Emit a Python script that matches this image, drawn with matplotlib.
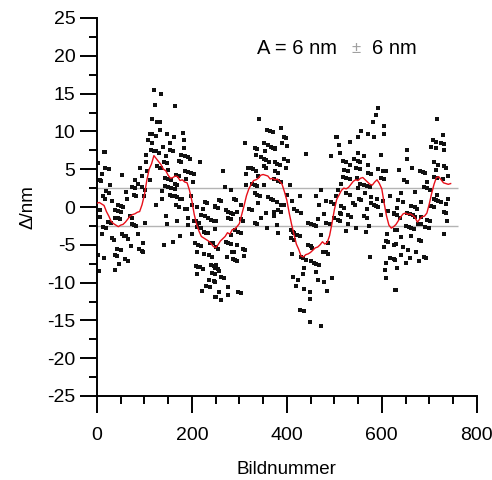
import matplotlib
matplotlib.use('Agg')
import matplotlib.pyplot as plt
import numpy as np

plt.rcParams['font.family'] = ['Liberation Sans', 'DejaVu Sans']
plt.rcParams['axes.unicode_minus'] = False

# Einzelmessungen (Bildnummer, Abweichung in nm)
frame_nr = [
    120, 123, 115, 111, 116, 108, 115, 113, 120, 104, 104, 90, 106, 94, 81, 111, 87, 94, 74, 80,
    102, 78, 83, 99, 61, 64, 52, 15, 17, 26, 10, 3, 8, 27, 20, 25, 13, 18, 31, 45,
    50, 55, 38, 45, 50, 6, 6, 39, 45, 48, 24, 30, 69, 74, 73, 78, 83, 101, 13, 20,
    52, 57, 62, 87, 66, 11, 31, 36, 97, 71, 88, 94, 98, 43, 50, 39, 43, 60, 66, 15,
    46, 3, 38, 4, 2, 17, 6,
    136, 165, 127, 132, 132, 124, 147, 181, 162, 184, 153, 139, 184, 125, 131, 153, 160, 178, 185, 192,
    197, 145, 172, 178, 141, 147, 218, 127, 132, 136, 186, 192, 199, 204, 150, 167, 172, 143, 150, 157,
    188, 202, 164, 169, 143, 150, 155, 165, 137, 153, 158, 164, 169, 174, 179, 199, 137, 227, 231, 125,
    167, 173, 200, 211, 185, 190, 223, 248, 220, 227, 192, 234, 146, 204, 209, 214, 241, 246, 169, 148,
    192, 211, 220, 249, 225, 230, 235, 176, 201, 160, 141, 206, 213, 220, 239, 244, 211, 225, 237, 242,
    208, 213, 218, 223, 241, 246, 211, 242, 248, 237, 246, 230, 238, 221, 249,
    342, 359, 364, 370, 312, 333, 338, 352, 361, 366, 371, 375, 353, 335, 346, 352, 356, 363, 375, 352,
    356, 318, 324, 329, 335, 265, 315, 375, 339, 326, 332, 338, 352, 314, 269, 283, 332, 338, 343, 360,
    366, 371, 289, 293, 258, 262, 248, 254, 304, 339, 321, 326, 271, 276, 282, 287, 356, 374, 296, 276,
    282, 345, 303, 307, 251, 332, 338, 359, 290, 297, 303, 283, 272, 277, 282, 296, 307, 312, 251, 256,
    284, 289, 275, 310, 286, 291, 295, 251, 248, 254, 258, 262, 268, 248, 277, 258, 298, 304, 276, 251,
    261,
    387, 394, 398, 389, 400, 376, 440, 504, 493, 395, 402, 380, 385, 398, 376, 382, 374, 381, 387, 406,
    401, 473, 380, 428, 462, 483, 493, 500, 410, 388, 394, 468, 374, 416, 422, 429, 382, 388, 479, 444,
    450, 457, 461, 465, 482, 490, 380, 382, 408, 413, 416, 422, 427, 471, 409, 416, 444, 450, 454, 486,
    476, 482, 487, 410, 429, 434, 440, 451, 457, 461, 468, 436, 461, 434, 412, 423, 465, 496, 478, 420,
    437, 448, 485, 448, 427, 436, 448, 472,
    591, 588, 581, 604, 604, 557, 570, 584, 549, 506, 532, 510, 511, 550, 562, 541, 550, 555, 518, 525,
    534, 570, 598, 546, 555, 521, 528, 592, 602, 609, 570, 577, 518, 525, 548, 598, 605, 534, 514, 555,
    562, 569, 576, 549, 507, 618, 525, 532, 565, 553, 557, 578, 590, 602, 504, 515, 520, 539, 543, 577,
    583, 588, 592, 569, 613, 626, 511, 515, 528, 536, 563, 569, 599, 500, 507, 513, 528, 574, 546, 525,
    567, 612, 609, 613, 626, 605, 576, 618, 625, 609, 606, 609, 627,
    717, 728, 707, 714, 724, 732, 704, 714, 730, 653, 654, 711, 719, 730, 735, 664, 637, 681, 686, 691,
    714, 739, 709, 716, 647, 654, 696, 728, 689, 695, 702, 669, 641, 717, 739, 634, 709, 714, 719, 724,
    644, 682, 735, 703, 709, 662, 669, 675, 632, 730, 626, 632, 654, 660, 665, 669, 639, 735, 682, 696,
    702, 738, 650, 658, 662, 668, 676, 682, 692, 700, 627, 633, 730, 661, 641, 678, 683, 630, 644, 655,
    671, 640, 689, 693, 660, 627, 650, 678, 632, 629,
]
delta_nm = [
    15.5, 13.5, 11.6, 9.7, 9.6, 8.9, 8.5, 7.5, 7.4, 6.9, 6.0, 5.2, 4.8, 4.1, 3.6, 3.6, 3.0, 2.7, 2.7, 2.5,
    2.2, 1.6, 1.4, 1.4, 2.0, 1.0, 4.2, 7.3, 5.2, 5.0, 4.4, 3.6, 3.4, 2.9, 2.1, 1.9, 1.4, 1.1, 0.8, 0.3,
    0.1, 0.0, -0.4, -0.5, -0.6, -0.4, -1.3, -1.4, -1.5, -1.6, -2.0, -2.1, -1.2, -1.4, -2.3, -2.4, -2.5, -2.1, -2.6, -2.8,
    -3.6, -3.8, -3.8, -3.6, -4.2, -3.6, -4.1, -4.3, -4.8, -5.1, -5.6, -5.8, -5.9, -5.5, -5.7, -6.4, -6.5, -6.9, -7.1, -6.8,
    -7.6, -6.4, -8.3, -8.5, 5.8, 7.3, 3.6,
    15.0, 13.3, 11.3, 11.2, 10.2, 9.4, 9.7, 9.8, 9.3, 8.8, 8.5, 8.0, 7.8, 7.4, 7.2, 7.6, 7.4, 6.9, 6.7, 6.6,
    6.4, 6.8, 6.1, 6.0, 6.0, 5.8, 5.9, 5.4, 5.2, 5.1, 4.8, 4.6, 4.5, 4.4, 4.9, 4.2, 4.1, 3.8, 3.7, 3.6,
    3.7, 3.3, 3.0, 2.9, 2.8, 2.7, 2.5, 2.4, 2.1, 1.6, 1.5, 1.4, 1.3, 1.1, 1.0, 1.4, 1.0, 0.7, 0.5, 0.3,
    0.3, 0.0, 0.3, 0.0, -0.2, -0.3, -0.3, 0.0, -1.1, -1.2, -1.4, -1.4, -1.2, -1.8, -1.9, -2.1, -1.7, -1.9, -1.8, -2.3,
    -2.4, -2.6, -2.8, -2.9, -3.3, -3.4, -3.5, -3.9, -3.6, -4.6, -5.0, -4.8, -5.0, -5.1, -4.7, -4.8, -5.9, -6.2, -6.4, -6.6,
    -7.8, -7.9, -8.0, -8.2, -7.7, -7.8, -8.8, -8.7, -8.9, -9.6, -9.8, -10.5, -10.6, -11.1, -11.9,
    11.6, 10.2, 10.1, 9.9, 8.4, 7.8, 7.7, 8.4, 8.2, 8.0, 7.8, 7.7, 7.4, 6.9, 6.6, 6.3, 6.2, 6.0, 5.9, 5.4,
    5.2, 5.2, 5.1, 5.0, 4.8, 4.7, 4.4, 4.8, 4.1, 3.0, 2.9, 2.8, 2.9, 2.9, 2.6, 2.2, 1.8, 1.6, 1.5, 1.3,
    1.1, 0.9, 1.1, 0.9, 0.9, 0.8, 0.1, -0.1, 0.3, 0.5, -0.2, -0.4, -0.4, -0.6, -0.8, -0.9, -0.8, -1.2, -0.6, -1.4,
    -1.6, -1.4, -1.6, -1.9, -1.8, -2.1, -2.2, -2.8, -3.0, -3.3, -3.5, -3.7, -4.6, -4.7, -4.9, -5.0, -5.5, -5.7, -5.3, -5.5,
    -5.9, -6.0, -6.6, -6.5, -6.9, -7.0, -7.1, -7.7, -8.1, -8.2, -8.4, -9.2, -9.4, -9.9, -10.6, -11.2, -11.2, -11.4, -11.6, -11.9,
    -12.3,
    10.4, 9.3, 9.1, 8.4, 8.1, 7.8, 7.0, 9.3, 6.7, 6.3, 6.1, 5.7, 5.5, 5.2, 4.7, 4.5, 3.7, 3.5, 3.3, 2.9,
    1.6, 2.2, 0.7, 1.4, 1.5, 0.8, 0.6, 0.4, 0.8, 0.3, 0.2, 0.3, -0.6, -0.3, -0.5, -0.8, -0.4, -0.6, -0.9, -2.1,
    -2.3, -2.4, -2.5, -1.6, -2.1, -2.3, -2.4, -3.4, -3.0, -3.3, -3.5, -3.7, -3.8, -3.7, -4.1, -4.4, -5.0, -5.2, -5.4, -4.8,
    -5.9, -6.0, -6.2, -6.2, -6.6, -6.8, -7.0, -7.2, -7.4, -7.5, -7.7, -8.1, -8.6, -8.8, -9.2, -9.6, -9.7, -9.4, -9.9, -10.4,
    -10.9, -11.2, -11.1, -12.2, -13.6, -13.8, -15.2, -15.8,
    13.1, 12.2, 11.3, 10.7, 9.7, 10.0, 9.7, 9.2, 9.2, 9.3, 8.6, 8.2, 7.2, 7.2, 6.8, 6.4, 6.1, 6.0, 6.1, 5.9,
    5.6, 5.6, 6.9, 5.2, 5.0, 4.9, 4.8, 5.0, 4.8, 4.7, 4.5, 4.4, 4.0, 3.9, 3.9, 3.8, 3.7, 3.7, 3.1, 3.1,
    2.9, 2.8, 2.6, 2.5, 2.2, 1.4, 1.8, 1.6, 1.8, 1.1, 0.9, 1.3, 1.1, 0.8, 1.4, 0.1, -0.1, 0.5, 0.3, 0.5,
    0.3, 0.1, 0.0, -0.3, -0.5, -0.8, -0.8, -0.9, -1.1, -1.3, -1.2, -1.4, -1.1, -1.5, -1.7, -1.9, -2.3, -2.5, -2.8, -3.2,
    -3.3, -3.6, -4.5, -4.6, -5.0, -5.3, -6.6, -6.7, -6.9, -7.4, -8.3, -9.4, -11.0,
    11.7, 9.5, 8.9, 8.6, 8.5, 8.3, 8.0, 7.8, 7.5, 7.5, 6.4, 5.9, 5.6, 5.4, 5.2, 5.1, 4.9, 4.8, 4.6, 4.5,
    4.9, 4.1, 4.0, 3.8, 3.6, 3.3, 3.3, 3.7, 2.6, 2.5, 2.2, 2.0, 1.8, 1.6, 1.1, 0.9, 1.1, 0.9, 0.8, 0.6,
    0.6, 0.6, 0.4, 0.1, 0.0, 0.1, 0.0, -0.2, -0.1, -0.6, -0.9, -1.1, -0.8, -0.9, -1.1, -1.3, -1.4, -0.8, -1.3, -1.7,
    -1.9, -1.9, -2.5, -2.7, -2.8, -2.9, -2.2, -2.3, -2.7, -2.8, -3.0, -3.1, -3.6, -3.8, -4.0, -4.3, -4.5, -4.9, -5.3, -5.7,
    -6.0, -6.3, -6.6, -6.7, -6.8, -7.0, -7.4, -7.2, -8.1, -11.0,
]

# geglaettete Kurve (rot)
smooth_x = list(range(0, 750, 5))
smooth_y = [
    0.5, 0.6, 0.4, 0.2, -0.6, -1.2, -1.9, -2.2, -2.4, -2.6, -2.4, -2.3, -2.0, -1.6, -1.2, -1.0, -0.9, -0.7, -0.6, 0.3,
    1.6, 3.5, 5.0, 5.7, 6.8, 6.4, 6.0, 5.6, 5.0, 4.8, 4.2, 3.8, 3.9, 4.1, 4.0, 3.5, 3.6, 3.3, 3.2, 2.2,
    0.8, -1.0, -2.3, -3.2, -3.9, -4.1, -4.3, -4.5, -4.8, -5.2, -5.4, -5.0, -4.5, -4.2, -3.9, -3.4, -3.6, -3.0, -2.9, -2.6,
    -2.2, -1.0, 0.2, 1.5, 2.4, 3.0, 3.5, 3.6, 3.8, 4.2, 4.3, 4.2, 4.1, 3.7, 3.8, 3.6, 3.7, 3.4, 3.0, 2.0,
    0.9, -0.8, -2.3, -3.6, -4.9, -5.6, -6.5, -6.6, -6.3, -6.2, -6.0, -5.7, -5.4, -5.3, -5.0, -4.6, -4.9, -4.7, -3.8, -2.2,
    -0.4, 1.0, 1.6, 2.2, 2.5, 2.4, 2.6, 3.0, 3.4, 3.6, 3.5, 3.8, 3.9, 3.6, 3.3, 3.0, 2.9, 3.3, 3.6, 3.1,
    2.4, 0.5, -1.2, -2.4, -2.8, -2.6, -2.3, -1.8, -1.3, -0.9, -0.8, -1.0, -0.9, -1.1, -1.4, -2.0, -1.6, -1.3, -1.2, -0.8,
    0.4, 1.8, 3.0, 3.9, 4.0, 3.6, 3.2, 3.1, 3.0, 3.1,
]

schwelle = 2.5

fig = plt.figure(figsize=(4.92, 4.80), dpi=100)
ax = fig.add_axes([0.197, 0.175, 0.772, 0.7875])

ax.hlines([schwelle, -schwelle], 0, 760, colors='#b4b4b4', linewidth=1.0, zorder=1)
ax.plot(frame_nr, delta_nm, 's', color='#111111', markersize=2.4, markeredgewidth=0, zorder=2)
ax.plot(smooth_x, smooth_y, color='#e8101a', linewidth=1.0, zorder=3)

ax.set_xlim(0, 800)
ax.set_ylim(-25, 25)
ax.set_xticks(np.arange(0, 801, 200))
ax.set_xticks(np.arange(0, 801, 50), minor=True)
ax.set_yticks(np.arange(-25, 26, 5))
ax.set_yticks(np.arange(-25, 26, 2.5), minor=True)

for s in ['top', 'right']:
    ax.spines[s].set_visible(False)
for s in ['left', 'bottom']:
    ax.spines[s].set_linewidth(1.4)

ax.tick_params(which='major', direction='out', length=12.5, width=1.4, labelsize=14, pad=3)
ax.tick_params(which='minor', direction='out', length=5.5, width=1.4)
ax.tick_params(axis='x', which='major', pad=10)

ax.set_xlabel('Bildnummer', fontsize=13.5, labelpad=12)
ax.set_ylabel('Δ/nm', fontsize=13.5, labelpad=8)

ax.text(338, 20.9, 'A = 6 nm', fontsize=14.5, ha='left', va='center')
ax.text(545, 20.9, '±', fontsize=12, color='#a0a0a0', ha='center', va='center')
ax.text(579, 20.9, '6 nm', fontsize=14.5, ha='left', va='center')

plt.savefig('out.png', dpi=100)
